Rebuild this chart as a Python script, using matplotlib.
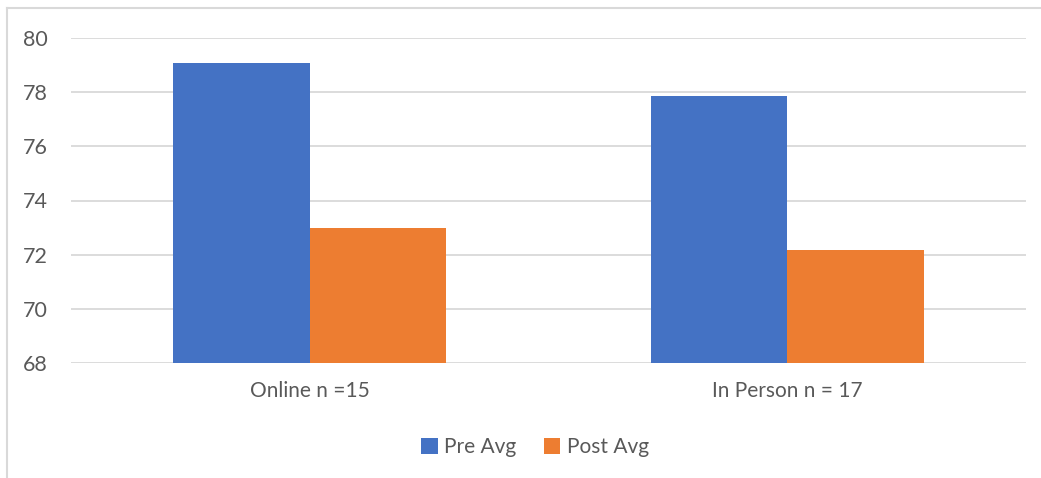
import matplotlib
matplotlib.use('agg')
import matplotlib.pyplot as plt
from matplotlib.lines import Line2D
import numpy as np

# group labels and averages
groups = ["Online n =15", "In Person n = 17"]
pre_avg = [79.08, 77.86]
post_avg = [72.98, 72.17]
series_names = ["Pre Avg", "Post Avg"]
y_ticks = [68, 70, 72, 74, 76, 78, 80]

blue = "#4472C4"
orange = "#ED7D31"
text_grey = "#595959"
grid_grey = "#d9d9d9"

plt.rcParams['font.family'] = ['Lato', 'DejaVu Sans']

W, H = 1041, 478
fig = plt.figure(figsize=(W / 100, H / 100), dpi=100)

# chart frame (only left and top edges show)
fig.add_artist(Line2D([7 / W, 7 / W], [0, 1 - 8 / H], color=grid_grey, lw=1.5,
                      transform=fig.transFigure))
fig.add_artist(Line2D([7 / W, 1], [1 - 8 / H, 1 - 8 / H], color=grid_grey, lw=1.5,
                      transform=fig.transFigure))

ax = fig.add_axes([71 / W, 1 - 363 / H, (1026 - 71) / W, (363 - 38) / H])

x = np.arange(len(groups))
w = 0.286
ax.bar(x - w / 2, np.array(pre_avg) - 68, w, bottom=68, color=blue, label=series_names[0], zorder=3)
ax.bar(x + w / 2, np.array(post_avg) - 68, w, bottom=68, color=orange, label=series_names[1], zorder=3)

ax.set_xlim(-0.5, 1.5)
ax.set_ylim(68, 80)
ax.set_yticks(y_ticks)
ax.set_xticks(x)
ax.set_xticklabels(groups)
ax.yaxis.grid(True, color=grid_grey, lw=1.3, zorder=0)
ax.tick_params(axis='both', length=0, labelsize=15, colors=text_grey)
ax.tick_params(axis='y', labelsize=15.5, pad=16.5)
ax.tick_params(axis='x', pad=13)
for s in ax.spines.values():
    s.set_visible(False)

ax.legend(loc='center', bbox_to_anchor=(535 / W, 1 - 447 / H), bbox_transform=fig.transFigure,
          ncol=2, frameon=False, fontsize=15, labelcolor=text_grey,
          handlelength=0.8, handleheight=0.8, handletextpad=0.3, columnspacing=1.3)

plt.savefig("out.png", dpi=100)
